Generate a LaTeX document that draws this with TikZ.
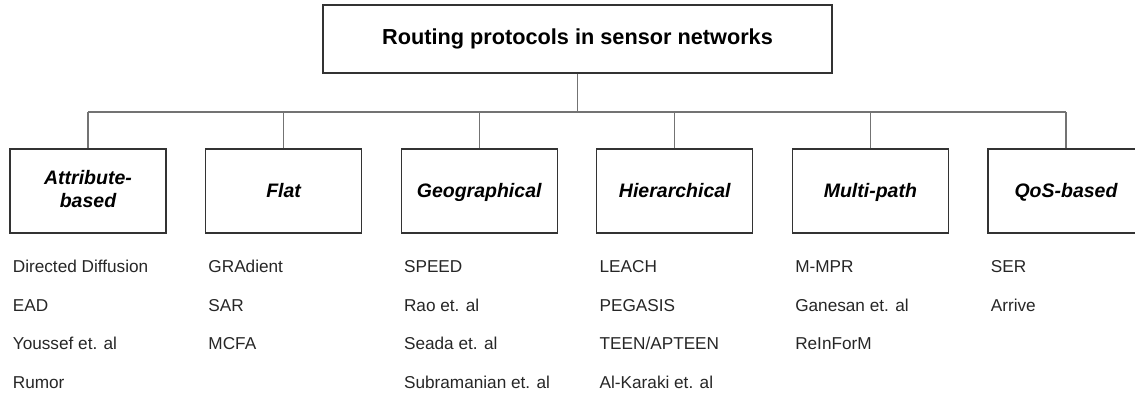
\documentclass[tikz,border=0pt]{standalone}
\usepackage{fontspec}
\setmainfont{Liberation Sans}
\usetikzlibrary{calc}
\tikzset{
	rootbox/.style={draw=black!80, line width=0.55pt, minimum width=254.5pt, minimum height=34pt, inner sep=0pt, font=\fontsize{10.85}{13}\selectfont\bfseries},
	catbox/.style={draw=black!80, line width=0.55pt, minimum width=78pt, minimum height=42pt, inner sep=0pt, align=center, font=\fontsize{9.75}{11.5}\selectfont\bfseries\itshape, execute at end node={\rule[-2.3pt]{0pt}{11.5pt}}},
	item/.style={anchor=base west, inner sep=0pt, font=\fontsize{8.6}{10}\selectfont, text=black!85},
	link/.style={draw=black!55, line width=0.6pt}
}
\begin{document}
\begin{tikzpicture}[x=0.5pt, y=-0.5pt]
	\clip (0,0) rectangle (1135,392);
	\node[rootbox] (root) at (577.5,39) {Routing protocols in sensor networks};
	\foreach \n/\t [count=\i from 0] in {attr/{Attribute-\\based},flat/Flat,geo/Geographical,hier/Hierarchical,multi/Multi-path,qos/QoS-based}{
		\node[catbox] (\n) at ({88+195.6*\i},191) {\t};
	}
	\coordinate (bus) at (577.5,112);
	\draw[link] (root) -- (root |- bus);
	\draw[link] (attr.north |- bus) -- (qos.north |- bus);
	\foreach \n in {attr,flat,geo,hier,multi,qos}{
		\draw[link] (\n) -- (\n |- bus);
	}
	\foreach \n/\l in {attr/{Directed Diffusion,EAD,Youssef et. al,Rumor},flat/{GRAdient,SAR,MCFA},geo/{SPEED,Rao et. al,Seada et. al,Subramanian et. al},hier/{LEACH,PEGASIS,TEEN/APTEEN,Al-Karaki et. al},multi/{M-MPR,Ganesan et. al,ReInForM},qos/{SER,Arrive}}{
		\foreach \t [count=\k] in \l{
			\node[item] (\n-\k) at ($(\n.south west)+(3,{39+38.7*(\k-1)})$) {\t};
		}
	}
\end{tikzpicture}
\end{document}
